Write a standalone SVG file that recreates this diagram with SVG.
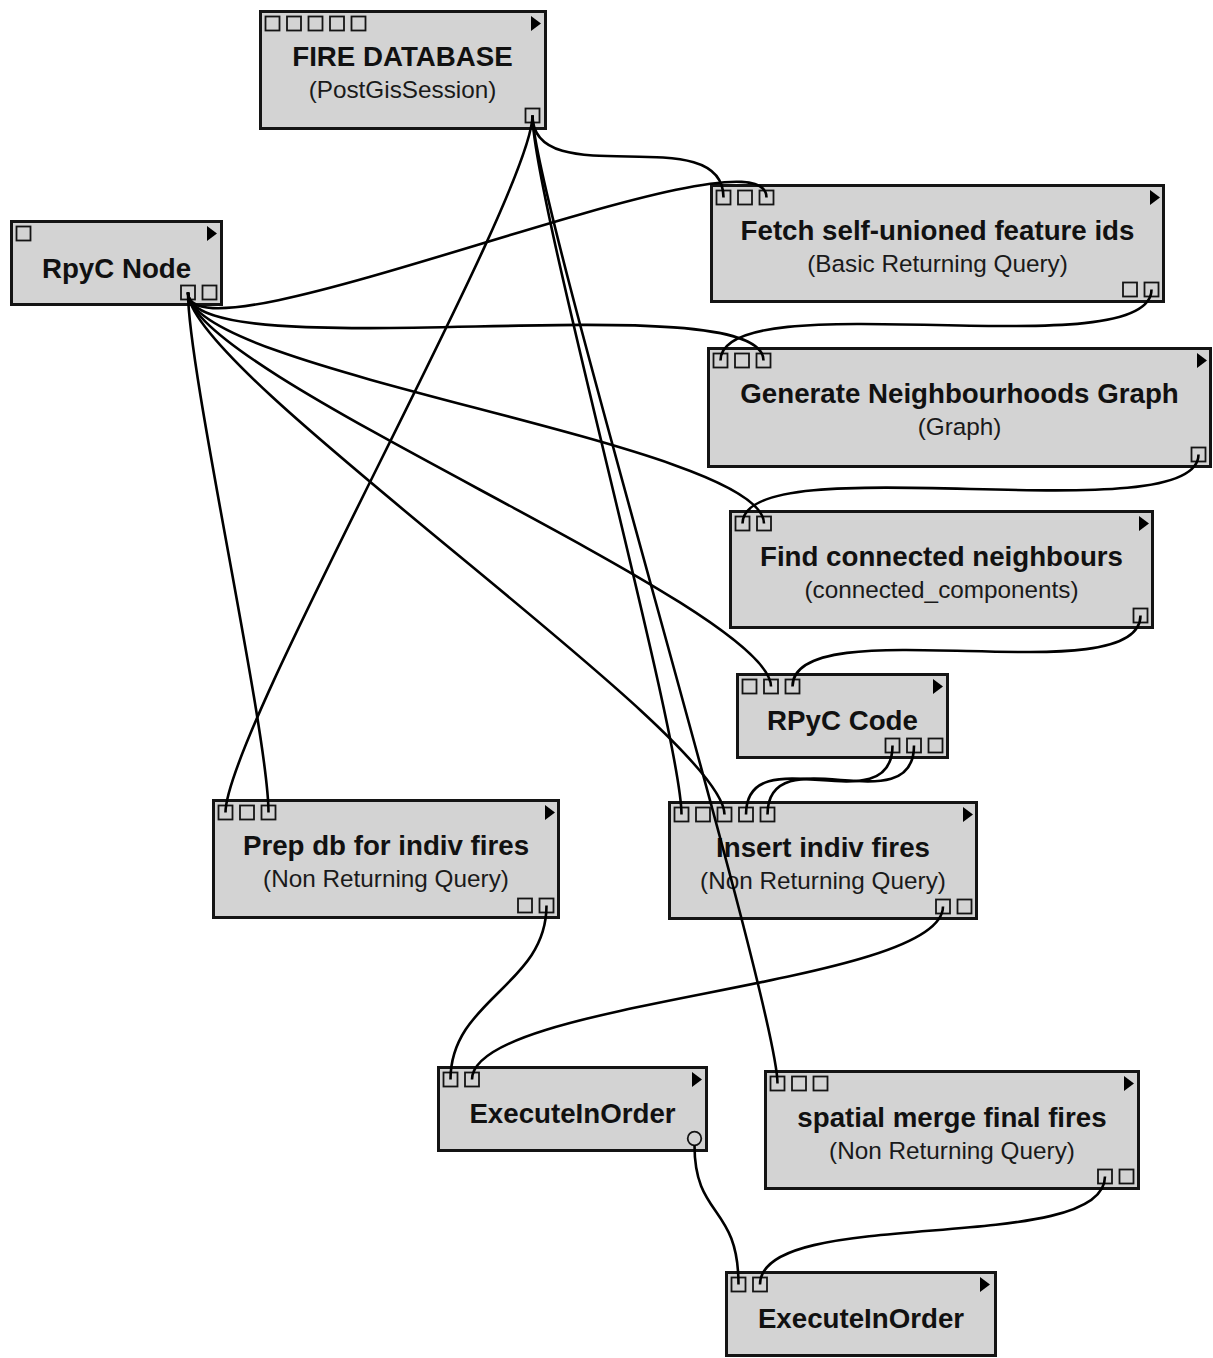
<svg xmlns="http://www.w3.org/2000/svg" width="1213" height="1358" viewBox="0 0 1213 1358">
<style>
.box{fill:#d3d3d3;stroke:#141414;stroke-width:3}
.port{fill:none;stroke:#141414;stroke-width:1.8}
.tri{fill:#000}
.title{font-family:"Liberation Sans",Arial,sans-serif;font-weight:bold;font-size:27.7px;fill:#111;text-anchor:middle}
.sub{font-family:"Liberation Sans",Arial,sans-serif;font-size:24.3px;fill:#1a1a1a;text-anchor:middle}
.wire{fill:none;stroke:#000;stroke-width:2.6}
</style>
<defs>
<rect id="p" class="port" x="-7" y="-7" width="14" height="14"/>
</defs>
<rect width="1213" height="1358" fill="#fff"/>
<g id="nodes">
<g id="fire-database">
<rect class="box" x="260.5" y="11.5" width="285" height="117"/>
<use href="#p" x="272.5" y="23.5"/><use href="#p" x="294" y="23.5"/><use href="#p" x="315.5" y="23.5"/><use href="#p" x="337" y="23.5"/><use href="#p" x="358.5" y="23.5"/>
<polygon class="tri" points="531,16 541,23.5 531,31"/>
<use href="#p" x="532.5" y="115.5"/>
<text class="title" x="402.5" y="66">FIRE DATABASE</text>
<text class="sub" x="402.5" y="98">(PostGisSession)</text>
</g>
<g id="rpyc-node">
<rect class="box" x="11.5" y="221.5" width="210" height="83"/>
<use href="#p" x="23.5" y="233.5"/>
<polygon class="tri" points="207,226 217,233.5 207,241"/>
<use href="#p" x="188" y="292.5"/><use href="#p" x="209.5" y="292.5"/>
<text class="title" x="116.5" y="278">RpyC Node</text>
</g>
<g id="fetch-ids">
<rect class="box" x="711.5" y="185.5" width="452" height="116"/>
<use href="#p" x="723.5" y="197.5"/><use href="#p" x="745" y="197.5"/><use href="#p" x="766.5" y="197.5"/>
<polygon class="tri" points="1150,190 1160,197.5 1150,205"/>
<use href="#p" x="1130" y="289.5"/><use href="#p" x="1151.5" y="289.5"/>
<text class="title" x="937.5" y="240">Fetch self-unioned feature ids</text>
<text class="sub" x="937.5" y="272">(Basic Returning Query)</text>
</g>
<g id="generate-graph">
<rect class="box" x="708.5" y="348.5" width="502" height="118"/>
<use href="#p" x="720.5" y="360.5"/><use href="#p" x="742" y="360.5"/><use href="#p" x="763.5" y="360.5"/>
<polygon class="tri" points="1197,353 1207,360.5 1197,368"/>
<use href="#p" x="1198.5" y="454.5"/>
<text class="title" x="959.5" y="403">Generate Neighbourhoods Graph</text>
<text class="sub" x="959.5" y="435">(Graph)</text>
</g>
<g id="find-connected">
<rect class="box" x="730.5" y="511.5" width="422" height="116"/>
<use href="#p" x="742.5" y="523.5"/><use href="#p" x="764" y="523.5"/>
<polygon class="tri" points="1139,516 1149,523.5 1139,531"/>
<use href="#p" x="1140.5" y="615.5"/>
<text class="title" x="941.5" y="566">Find connected neighbours</text>
<text class="sub" x="941.5" y="598">(connected_components)</text>
</g>
<g id="rpyc-code">
<rect class="box" x="737.5" y="674.5" width="210" height="83"/>
<use href="#p" x="749.5" y="686.5"/><use href="#p" x="771" y="686.5"/><use href="#p" x="792.5" y="686.5"/>
<polygon class="tri" points="933,679 943,686.5 933,694"/>
<use href="#p" x="892.5" y="745.5"/><use href="#p" x="914" y="745.5"/><use href="#p" x="935.5" y="745.5"/>
<text class="title" x="842.5" y="730">RPyC Code</text>
</g>
<g id="prep-db">
<rect class="box" x="213.5" y="800.5" width="345" height="117"/>
<use href="#p" x="225.5" y="812.5"/><use href="#p" x="247" y="812.5"/><use href="#p" x="268.5" y="812.5"/>
<polygon class="tri" points="545,805 555,812.5 545,820"/>
<use href="#p" x="525" y="905.5"/><use href="#p" x="546.5" y="905.5"/>
<text class="title" x="386" y="855">Prep db for indiv fires</text>
<text class="sub" x="386" y="887">(Non Returning Query)</text>
</g>
<g id="insert-fires">
<rect class="box" x="669.5" y="802.5" width="307" height="116"/>
<use href="#p" x="681.5" y="814.5"/><use href="#p" x="703" y="814.5"/><use href="#p" x="724.5" y="814.5"/><use href="#p" x="746" y="814.5"/><use href="#p" x="767.5" y="814.5"/>
<polygon class="tri" points="963,807 973,814.5 963,822"/>
<use href="#p" x="943" y="906.5"/><use href="#p" x="964.5" y="906.5"/>
<text class="title" x="823" y="857">Insert indiv fires</text>
<text class="sub" x="823" y="889">(Non Returning Query)</text>
</g>
<g id="execute-in-order-1">
<rect class="box" x="438.5" y="1067.5" width="268" height="83"/>
<use href="#p" x="450.5" y="1079.5"/><use href="#p" x="472" y="1079.5"/>
<polygon class="tri" points="692,1072 702,1079.5 692,1087"/>
<circle class="port" cx="694.5" cy="1138.5" r="6.8"/>
<text class="title" x="572.5" y="1123">ExecuteInOrder</text>
</g>
<g id="spatial-merge">
<rect class="box" x="765.5" y="1071.5" width="373" height="117"/>
<use href="#p" x="777.5" y="1083.5"/><use href="#p" x="799" y="1083.5"/><use href="#p" x="820.5" y="1083.5"/>
<polygon class="tri" points="1124,1076 1134,1083.5 1124,1091"/>
<use href="#p" x="1105" y="1176.5"/><use href="#p" x="1126.5" y="1176.5"/>
<text class="title" x="952" y="1127">spatial merge final fires</text>
<text class="sub" x="952" y="1159">(Non Returning Query)</text>
</g>
<g id="execute-in-order-2">
<rect class="box" x="726.5" y="1272.5" width="269" height="83"/>
<use href="#p" x="738.5" y="1284.5"/><use href="#p" x="760" y="1284.5"/>
<polygon class="tri" points="980,1277 990,1284.5 980,1292"/>
<text class="title" x="861" y="1328">ExecuteInOrder</text>
</g>
</g>
<g id="connectors">
<path class="wire" d="M532.5,115.5 C532.5,195.5 723.5,117.5 723.5,197.5"/>
<path class="wire" d="M532.5,115.5 C532.5,195.5 225.5,732.5 225.5,812.5"/>
<path class="wire" d="M532.5,115.5 C532.5,195.5 681.5,734.5 681.5,814.5"/>
<path class="wire" d="M532.5,115.5 C532.5,195.5 777.5,1003.5 777.5,1083.5"/>
<path class="wire" d="M188,292.5 C188,372.5 766.5,117.5 766.5,197.5"/>
<path class="wire" d="M188,292.5 C188,372.5 763.5,280.5 763.5,360.5"/>
<path class="wire" d="M188,292.5 C188,372.5 764,443.5 764,523.5"/>
<path class="wire" d="M188,292.5 C188,372.5 771,606.5 771,686.5"/>
<path class="wire" d="M188,292.5 C188,372.5 724.5,734.5 724.5,814.5"/>
<path class="wire" d="M188,292.5 C188,372.5 268.5,732.5 268.5,812.5"/>
<path class="wire" d="M1151.5,289.5 C1151.5,369.5 720.5,280.5 720.5,360.5"/>
<path class="wire" d="M1198.5,454.5 C1198.5,534.5 742.5,443.5 742.5,523.5"/>
<path class="wire" d="M1140.5,615.5 C1140.5,695.5 792.5,606.5 792.5,686.5"/>
<path class="wire" d="M892.5,745.5 C892.5,825.5 746,734.5 746,814.5"/>
<path class="wire" d="M914,745.5 C914,825.5 767.5,734.5 767.5,814.5"/>
<path class="wire" d="M546.5,905.5 C546.5,985.5 450.5,999.5 450.5,1079.5"/>
<path class="wire" d="M943,906.5 C943,986.5 472,999.5 472,1079.5"/>
<path class="wire" d="M694.5,1145.3 C694.5,1218.5 738.5,1204.5 738.5,1284.5"/>
<path class="wire" d="M1105,1176.5 C1105,1256.5 760,1204.5 760,1284.5"/>
</g>
</svg>
